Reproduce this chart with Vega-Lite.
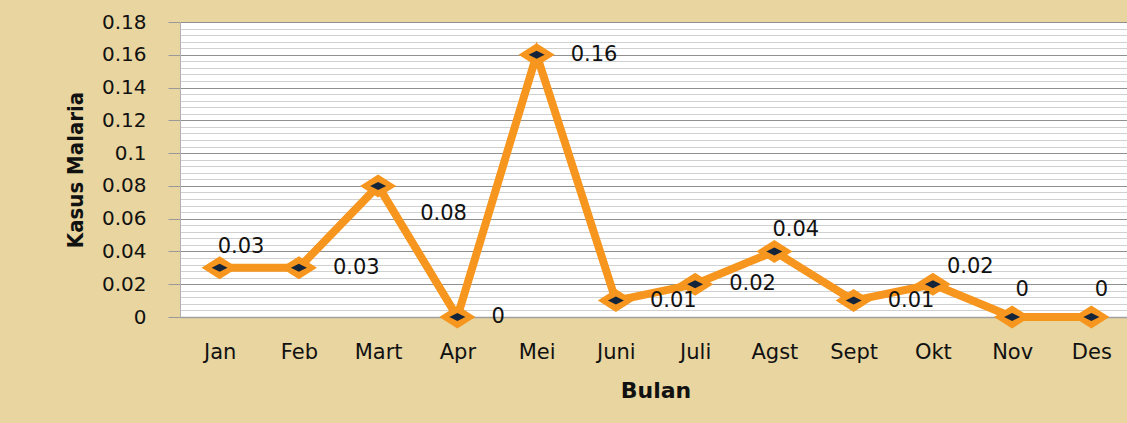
{
  "$schema": "https://vega.github.io/schema/vega-lite/v6.json",
  "width": 951,
  "height": 295,
  "autosize": {"type": "none"},
  "padding": {"left": 180, "top": 22, "right": -4, "bottom": 106},
  "background": "#E8D59F",
  "config": {"view": {"stroke": null, "fill": "white"}},
  "data": {"values": [
    {"bulan": "Jan", "kasus": 0.03},
    {"bulan": "Feb", "kasus": 0.03},
    {"bulan": "Mart", "kasus": 0.08},
    {"bulan": "Apr", "kasus": 0},
    {"bulan": "Mei", "kasus": 0.16},
    {"bulan": "Juni", "kasus": 0.01},
    {"bulan": "Juli", "kasus": 0.02},
    {"bulan": "Agst", "kasus": 0.04},
    {"bulan": "Sept", "kasus": 0.01},
    {"bulan": "Okt", "kasus": 0.02},
    {"bulan": "Nov", "kasus": 0},
    {"bulan": "Des", "kasus": 0}
  ]},
  "encoding": {
    "x": {
      "field": "bulan", "type": "nominal", "sort": null,
      "scale": {"type": "point", "padding": 0.5},
      "axis": {
        "title": "Bulan", "labelAngle": 0, "ticks": false, "tickSize": 0, "grid": false,
        "domainColor": "#a0a0a0", "domainWidth": 1.5,
        "labelFont": "DejaVu Sans", "labelFontSize": 21, "labelColor": "#111111", "labelPadding": 24,
        "titleFont": "DejaVu Sans", "titleFontSize": 22, "titleFontWeight": "bold", "titleColor": "#111111",
        "titleBaseline": "alphabetic", "titleY": 80
      }
    },
    "y": {
      "field": "kasus", "type": "quantitative",
      "scale": {"domain": [0, 0.18], "nice": false},
      "axis": {
        "title": "Kasus Malaria",
        "values": [0,0.004,0.008,0.012,0.016,0.02,0.024,0.028,0.032,0.036,0.04,0.044,0.048,0.052,0.056,0.06,0.064,0.068,0.072,0.076,0.08,0.084,0.088,0.092,0.096,0.1,0.104,0.108,0.112,0.116,0.12,0.124,0.128,0.132,0.136,0.14,0.144,0.148,0.152,0.156,0.16,0.164,0.168,0.172,0.176,0.18],
        "format": "~g",
        "labelExpr": "round(datum.value*1000) % 20 == 0 ? datum.label : ''",
        "grid": true,
        "gridColor": {"condition": {"test": "round(datum.value*1000) % 20 == 0", "value": "#909090"}, "value": "#d0d0d0"},
        "gridWidth": 1,
        "tickSize": 12,
        "tickColor": "#999999",
        "tickOpacity": {"condition": {"test": "round(datum.value*1000) % 20 == 0", "value": 1}, "value": 0},
        "domainColor": "#b0b0b0",
        "labelFont": "DejaVu Sans", "labelFontSize": 20, "labelColor": "#111111", "labelPadding": 22,
        "labelOverlap": false,
        "titleFont": "DejaVu Sans Condensed, Liberation Sans Narrow, sans-serif", "titleFontSize": 22, "titleFontWeight": "bold", "titleColor": "#111111",
        "titleBaseline": "alphabetic", "titleX": -98, "titleY": 147.5
      }
    }
  },
  "layer": [
    {"mark": {"type": "line", "color": "#F7961E", "strokeWidth": 8}},
    {"mark": {"type": "point", "filled": true, "opacity": 1, "color": "#F7961E", "size": 529, "shape": "M-1.57,0L0,-1L1.57,0L0,1Z"}},
    {"mark": {"type": "point", "filled": true, "opacity": 1, "color": "#14243A", "size": 64, "shape": "M-2,0L0,-1L2,0L0,1Z"}},
    {
      "transform": [{"filter": {"field": "bulan", "oneOf": ["Feb", "Apr", "Mei", "Juni", "Juli", "Sept"]}}],
      "mark": {"type": "text", "align": "left", "baseline": "middle", "dx": 34, "dy": 0, "font": "DejaVu Sans", "fontSize": 21, "color": "#111111"},
      "encoding": {"text": {"field": "kasus", "type": "quantitative", "format": "~g"}}
    },
    {
      "transform": [{"filter": {"field": "bulan", "oneOf": ["Jan", "Agst"]}}],
      "mark": {"type": "text", "align": "left", "baseline": "middle", "dx": -2, "dy": -21, "font": "DejaVu Sans", "fontSize": 21, "color": "#111111"},
      "encoding": {"text": {"field": "kasus", "type": "quantitative", "format": "~g"}}
    },
    {
      "transform": [{"filter": {"field": "bulan", "equal": "Okt"}}],
      "mark": {"type": "text", "align": "left", "baseline": "middle", "dx": 14, "dy": -17, "font": "DejaVu Sans", "fontSize": 21, "color": "#111111"},
      "encoding": {"text": {"field": "kasus", "type": "quantitative", "format": "~g"}}
    },
    {
      "transform": [{"filter": {"field": "bulan", "equal": "Mart"}}],
      "mark": {"type": "text", "align": "left", "baseline": "middle", "dx": 42, "dy": 28, "font": "DejaVu Sans", "fontSize": 21, "color": "#111111"},
      "encoding": {"text": {"field": "kasus", "type": "quantitative", "format": "~g"}}
    },
    {
      "transform": [{"filter": {"field": "bulan", "oneOf": ["Nov", "Des"]}}],
      "mark": {"type": "text", "align": "center", "baseline": "middle", "dx": 10, "dy": -27, "font": "DejaVu Sans", "fontSize": 21, "color": "#111111"},
      "encoding": {"text": {"field": "kasus", "type": "quantitative", "format": "~g"}}
    }
  ]
}
